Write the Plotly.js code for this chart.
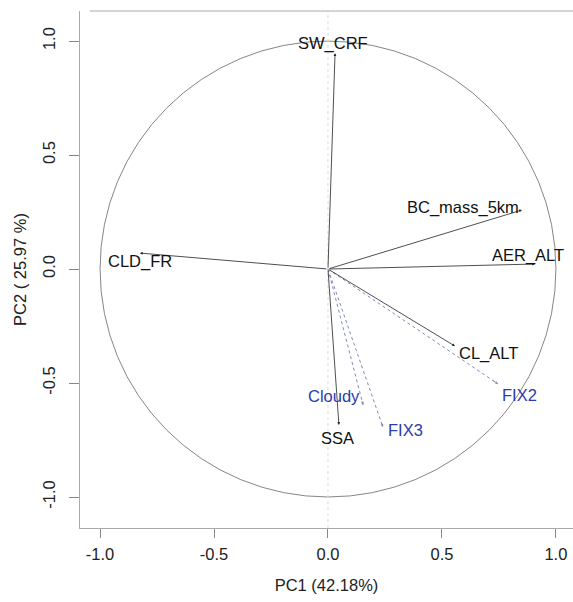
<!DOCTYPE html>
<html>
<head>
<meta charset="utf-8">
<script src="https://cdn.plot.ly/plotly-3.0.1.min.js"></script>
<style>
  html, body { margin: 0; padding: 0; background: #fff; overflow: hidden; }
  #chart { width: 573px; height: 602px; }
</style>
</head>
<body>
<div id="chart"></div>
<script>
// ---- data ----
const activeVars = ['SW_CRF', 'BC_mass_5km', 'AER_ALT', 'CLD_FR', 'CL_ALT', 'SSA'];
const activePC1  = [0.031, 0.851, 0.908, -0.825, 0.557, 0.048];
const activePC2  = [0.947, 0.259, 0.022, 0.070, -0.338, -0.684];

const supVars = ['Cloudy', 'FIX2', 'FIX3'];
const supPC1  = [0.154, 0.746, 0.241];
const supPC2  = [-0.596, -0.504, -0.693];

const tickVals   = [-1, -0.5, 0, 0.5, 1];
const tickLabels = ['-1.0', '-0.5', '0.0', '0.5', '1.0'];

const xTitle = 'PC1 (42.18%)';
const yTitle = 'PC2 ( 25.97 %)';

// ---- style / label placement ----
const FONT = 'Liberation Sans, Arial, sans-serif';
const FS = 16.5;
const BLACK = '#222';
const BLUE = '#2b3caa';
const SUPLINE = '#8088bb';
const labelPlace = {
  'SW_CRF':      {xanchor: 'center', xshift: -2, yshift: 10},
  'BC_mass_5km': {xanchor: 'right',  xshift: -1, yshift: 3},
  'AER_ALT':     {xanchor: 'center', xshift: -7, yshift: 9},
  'CLD_FR':      {xanchor: 'center', xshift: 0,  yshift: -8},
  'CL_ALT':      {xanchor: 'left',   xshift: 2,  yshift: -7},
  'SSA':         {xanchor: 'center', xshift: -1, yshift: -13},
  'Cloudy':      {xanchor: 'right',  xshift: -1, yshift: 9},
  'FIX2':        {xanchor: 'left',   xshift: 2,  yshift: -11},
  'FIX3':        {xanchor: 'left',   xshift: 3,  yshift: -3}
};

const traces = [];
const annotations = [];

// active variables: solid arrows
activeVars.forEach((name, i) => {
  annotations.push({
    x: activePC1[i], y: activePC2[i], xref: 'x', yref: 'y',
    ax: 0, ay: 0, axref: 'x', ayref: 'y',
    text: '', showarrow: true, arrowhead: 2, arrowsize: 0.7, arrowwidth: 0.8,
    arrowcolor: BLACK, standoff: 0, startstandoff: 0
  });
  const p = labelPlace[name];
  annotations.push({
    x: activePC1[i], y: activePC2[i], xref: 'x', yref: 'y',
    text: name, showarrow: false, xanchor: p.xanchor, yanchor: 'middle',
    xshift: p.xshift, yshift: p.yshift,
    font: {family: FONT, size: FS, color: '#111'}
  });
});

// supplementary variables: dotted blue arrows
supVars.forEach((name, i) => {
  traces.push({
    type: 'scatter', mode: 'lines',
    x: [0, supPC1[i]], y: [0, supPC2[i]],
    line: {color: SUPLINE, width: 1, dash: 'dot'},
    hoverinfo: 'skip', showlegend: false
  });
  annotations.push({
    x: supPC1[i], y: supPC2[i], xref: 'x', yref: 'y',
    ax: supPC1[i] * 0.96, ay: supPC2[i] * 0.96, axref: 'x', ayref: 'y',
    text: '', showarrow: true, arrowhead: 2, arrowsize: 0.7, arrowwidth: 0.8,
    arrowcolor: SUPLINE, standoff: 0, startstandoff: 0
  });
  const p = labelPlace[name];
  annotations.push({
    x: supPC1[i], y: supPC2[i], xref: 'x', yref: 'y',
    text: name, showarrow: false, xanchor: p.xanchor, yanchor: 'middle',
    xshift: p.xshift, yshift: p.yshift,
    font: {family: FONT, size: FS, color: BLUE}
  });
});

const axisCommon = {
  showgrid: false, zeroline: false, showline: true, linecolor: '#aaa', linewidth: 1,
  ticks: 'outside', tickcolor: '#888', tickwidth: 1,
  tickmode: 'array', tickvals: tickVals, ticktext: tickLabels,
  tickfont: {family: FONT, size: FS, color: '#222'},
  fixedrange: true
};

const layout = {
  width: 573, height: 602,
  margin: {l: 80, r: 0, t: 11, b: 74},
  paper_bgcolor: '#fff', plot_bgcolor: '#fff',
  showlegend: false,
  xaxis: Object.assign({}, axisCommon, {
    range: [-1.088, 1.075], ticklen: 9, ticklabelstandoff: 2,
    title: {text: xTitle, font: {family: FONT, size: FS, color: '#222'}, standoff: 17}
  }),
  yaxis: Object.assign({}, axisCommon, {
    range: [-1.136, 1.132], ticklen: 10, tickangle: -90, ticklabelstandoff: 7,
    title: {text: yTitle, font: {family: FONT, size: FS, color: '#222'}, standoff: 9}
  }),
  shapes: [
    {type: 'circle', xref: 'x', yref: 'y', x0: -1, x1: 1, y0: -1, y1: 1,
     line: {color: '#666', width: 0.8}},
    {type: 'line', xref: 'x', yref: 'paper', x0: 0, x1: 0, y0: 0, y1: 1,
     line: {color: '#dcdcdc', width: 1, dash: 'dot'}},
    {type: 'line', xref: 'paper', yref: 'paper', x0: 0.02, x1: 1, y0: 1, y1: 1,
     line: {color: '#aaa', width: 1}}
  ],
  annotations: annotations
};

Plotly.newPlot('chart', traces, layout, {staticPlot: true, displayModeBar: false});
</script>
</body>
</html>
